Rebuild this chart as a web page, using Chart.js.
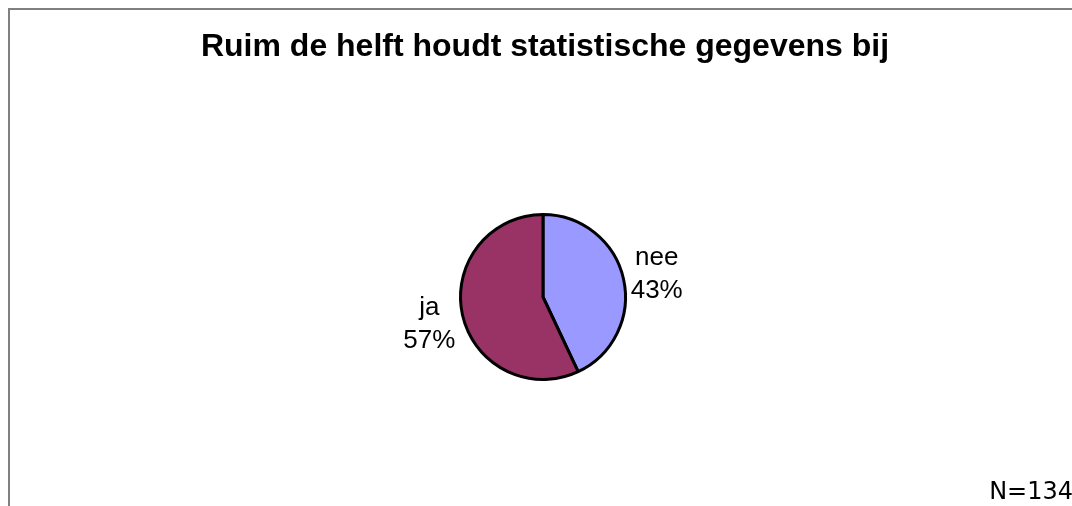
<!DOCTYPE html>
<html>
<head>
<meta charset="utf-8">
<script src="https://cdn.jsdelivr.net/npm/chart.js"></script>
<style>
  html, body { margin: 0; padding: 0; background: #fff; }
  #wrap { position: relative; width: 1072px; height: 506px; }
</style>
</head>
<body>
<div id="wrap"><canvas id="pieChart" width="1072" height="506"></canvas></div>
<script>
const chartTitle = 'Ruim de helft houdt statistische gegevens bij';
const categories = ['nee', 'ja'];
const shares = [43, 57];
const sliceColors = ['#9999FF', '#993366'];
const footNote = 'N=134';

// frame, title, slice labels and the N note
const decorPlugin = {
    id: 'decor',
    afterDraw(chart) {
        const ctx = chart.ctx;
        ctx.save();
        ctx.fillStyle = '#808080';
        ctx.fillRect(8, 8, 1064, 2);
        ctx.fillRect(8, 8, 2, 498);

        ctx.fillStyle = '#000';
        ctx.textBaseline = 'alphabetic';
        ctx.textAlign = 'center';
        ctx.font = 'bold 32px "Liberation Sans", Arial, sans-serif';
        ctx.fillText(chartTitle, 545, 56);

        ctx.font = '26px "Liberation Sans", Arial, sans-serif';
        const meta = chart.getDatasetMeta(0);
        meta.data.forEach((arc, i) => {
            const mid = (arc.startAngle + arc.endAngle) / 2;
            const dist = arc.outerRadius + 34;
            const x = arc.x + Math.cos(mid) * dist;
            const y = arc.y + Math.sin(mid) * dist;
            ctx.fillText(categories[i], x, y - 7);
            ctx.fillText(shares[i] + '%', x, y + 26);
        });

        ctx.textAlign = 'right';
        ctx.font = '24px "DejaVu Sans", Verdana, sans-serif';
        ctx.fillText(footNote, 1073, 499);
        ctx.restore();
    }
};

const ctx = document.getElementById('pieChart').getContext('2d');
new Chart(ctx, {
    type: 'pie',
    data: {
        labels: categories,
        datasets: [{
            data: shares,
            backgroundColor: sliceColors,
            borderColor: '#000',
            borderWidth: 3
        }]
    },
    options: {
        responsive: false,
        animation: false,
        layout: { padding: { left: 459, right: 445, top: 213, bottom: 125 } },
        plugins: {
            legend: { display: false },
            tooltip: { enabled: false },
            title: { display: false }
        }
    },
    plugins: [decorPlugin]
});
</script>
</body>
</html>
